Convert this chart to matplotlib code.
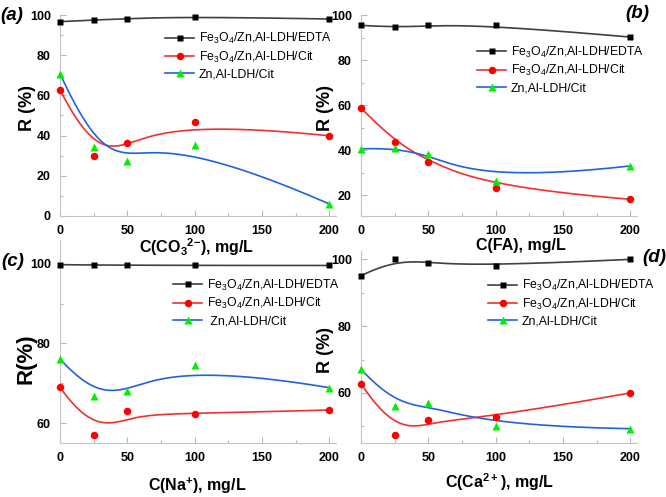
import numpy as np
import matplotlib.pyplot as plt
from matplotlib.lines import Line2D
from matplotlib.ticker import MultipleLocator

plt.rcParams['font.family'] = ['Liberation Sans', 'DejaVu Sans']

# concentrations of the interfering ion, mg/L
conc = [0, 25, 50, 100, 200]

# (a) CO3 2-
edta_a = [96.7, 97.5, 98.2, 99.2, 98.0]
cit_a = [62.8, 29.9, 36.4, 46.7, 39.9]
ldh_a = [70.8, 34.5, 27.6, 35.2, 6.0]
# (b) FA
edta_b = [95.4, 94.5, 95.4, 95.4, 90.2]
cit_b = [58.7, 43.5, 34.7, 23.1, 18.2]
ldh_b = [40.6, 41.0, 38.3, 26.3, 33.0]
# (c) Na+
edta_c = [99.8, 99.7, 99.7, 99.6, 99.6]
cit_c = [69.0, 57.1, 63.0, 62.3, 63.3]
ldh_c = [76.1, 66.9, 68.0, 74.5, 68.9]
# (d) Ca2+
edta_d = [95.1, 100.0, 98.8, 98.1, 100.0]
cit_d = [62.8, 47.5, 52.0, 52.8, 60.0]
ldh_d = [67.1, 56.2, 57.1, 50.0, 49.3]

lab_edta = 'Fe$_\\mathregular{3}$O$_\\mathregular{4}$/Zn,Al-LDH/EDTA'
lab_cit = 'Fe$_\\mathregular{3}$O$_\\mathregular{4}$/Zn,Al-LDH/Cit'
lab_ldh = 'Zn,Al-LDH/Cit'


def bspline(xs, ys, num=300):
    # clamped cubic B-spline, data points used as control points
    pts = np.column_stack([xs, ys]).astype(float)
    k = 3
    m = len(pts)
    knots = np.concatenate([np.zeros(k), np.linspace(0, 1, m - k + 1), np.ones(k)])
    t = np.linspace(0, 1, num)
    t[-1] = 1 - 1e-10
    N = np.zeros((num, len(knots) - 1))
    for i in range(len(knots) - 1):
        N[:, i] = (knots[i] <= t) & (t < knots[i + 1])
    for d in range(1, k + 1):
        Nn = np.zeros((num, len(knots) - 1 - d))
        for i in range(len(knots) - 1 - d):
            den1 = knots[i + d] - knots[i]
            den2 = knots[i + d + 1] - knots[i + 1]
            term = np.zeros(num)
            if den1 > 0:
                term += (t - knots[i]) / den1 * N[:, i]
            if den2 > 0:
                term += (knots[i + d + 1] - t) / den2 * N[:, i + 1]
            Nn[:, i] = term
        N = Nn
    c = N @ pts
    return c[:, 0], c[:, 1]


W, H = 666, 497
fig = plt.figure(figsize=(W / 100, H / 100), dpi=100)


def fx(px):
    return px / W


def fy(py):
    return 1 - py / H


panels = [
    dict(rect=[60, 15, 336, 216], ylim=(0, 100), yt=[0, 20, 40, 60, 80, 100],
         data=(edta_a, cit_a, ldh_a), xlabel='C(CO$_\\mathregular{3}$$^\\mathregular{2{-}}$), mg/L',
         xl=(197, 253.5), ylabel='R (%)', yl=(36, 108), ysize=13,
         leg=(165, 31), tag='(a)', tagpos=(12, 15), labs=(lab_edta, lab_cit, lab_ldh)),
    dict(rect=[361, 15, 637, 215.5], ylim=(11, 100), yt=[20, 40, 60, 80, 100],
         data=(edta_b, cit_b, ldh_b), xlabel='C(FA), mg/L',
         xl=(521, 250), ylabel='R (%)', yl=(334, 108), ysize=13,
         leg=(477, 44.5), tag='(b)', tagpos=(637, 13), labs=(lab_edta, lab_cit, lab_ldh)),
    dict(rect=[60, 240, 336, 443], ylim=(55, 106), yt=[60, 80, 100],
         data=(edta_c, cit_c, ldh_c), xlabel='C(Na$^\\mathregular{+}$), mg/L',
         xl=(197, 490.5), ylabel='R(%)', yl=(36, 359), ysize=16,
         leg=(173, 277.5), tag='(c)', tagpos=(13, 261), labs=(lab_edta, lab_cit, ' ' + lab_ldh)),
    dict(rect=[361, 251, 637, 443], ylim=(45, 102.5), yt=[60, 80, 100],
         data=(edta_d, cit_d, ldh_d), xlabel='C(Ca$^\\mathregular{2+}$), mg/L',
         xl=(500, 488), ylabel='R (%)', yl=(334, 350), ysize=13,
         leg=(488, 278), tag='(d)', tagpos=(654, 258), labs=(lab_edta, lab_cit, lab_ldh)),
]

styles = [
    dict(lc='#404040', mc='black', marker='s', ms=4.8),
    dict(lc='#f03030', mc='#ff0000', marker='o', ms=5.4),
    dict(lc='#1f63e0', mc='#00f000', marker='^', ms=6.0),
]

for p in panels:
    l, t, r, b = p['rect']
    ax = fig.add_axes([fx(l), fy(b), fx(r) - fx(l), fy(t) - fy(b)])
    handles = []
    for ys, st in zip(p['data'], styles):
        cx, cy = bspline(conc, ys)
        ax.plot(cx, cy, color=st['lc'], lw=1.2, clip_on=False, zorder=2)
        ax.plot(conc, ys, ls='none', marker=st['marker'], ms=st['ms'], color=st['mc'],
                mec='none', clip_on=False, zorder=3)
        handles.append(Line2D([], [], color=st['lc'], lw=1.2, marker=st['marker'],
                              ms=st['ms'], mfc=st['mc'], mec='none'))
    ax.set_xlim(0, 205)
    ax.set_ylim(*p['ylim'])
    ax.set_xticks([0, 50, 100, 150, 200])
    ax.set_yticks(p['yt'])
    ax.xaxis.set_minor_locator(MultipleLocator(25))
    ax.yaxis.set_minor_locator(MultipleLocator(10))
    for s in ['top', 'right']:
        ax.spines[s].set_visible(False)
    for s in ['left', 'bottom']:
        ax.spines[s].set_color('#c4c4c4')
        ax.spines[s].set_linewidth(0.8)
    ax.tick_params(which='both', direction='in', color='#b8b8b8', labelcolor='black',
                   width=0.8, pad=6.5)
    ax.tick_params(which='major', length=4)
    ax.tick_params(which='minor', length=2)
    for lb in ax.get_xticklabels() + ax.get_yticklabels():
        lb.set_fontsize(9)
        lb.set_fontweight('bold')
    ax.patch.set_visible(False)

    ax.set_xlabel(p['xlabel'], fontsize=11.5, fontweight='bold')
    ax.xaxis.label.set_va('baseline')
    ax.xaxis.set_label_coords(fx(p['xl'][0]), fy(p['xl'][1]), transform=fig.transFigure)
    ax.set_ylabel(p['ylabel'], fontsize=p['ysize'], fontweight='bold')
    ax.yaxis.set_label_coords(fx(p['yl'][0]), fy(p['yl'][1]), transform=fig.transFigure)

    ax.legend(handles, p['labs'], loc='upper left',
              bbox_to_anchor=(fx(p['leg'][0]), fy(p['leg'][1])), bbox_transform=fig.transFigure,
              frameon=False, fontsize=8.8, borderpad=0, borderaxespad=0,
              handlelength=2.4, handletextpad=0.35, labelspacing=0.3)

    fig.text(fx(p['tagpos'][0]), fy(p['tagpos'][1]), p['tag'], fontsize=13.5,
             fontweight='bold', fontstyle='italic', ha='center', va='center')

fig.savefig('out.png', dpi=100)
